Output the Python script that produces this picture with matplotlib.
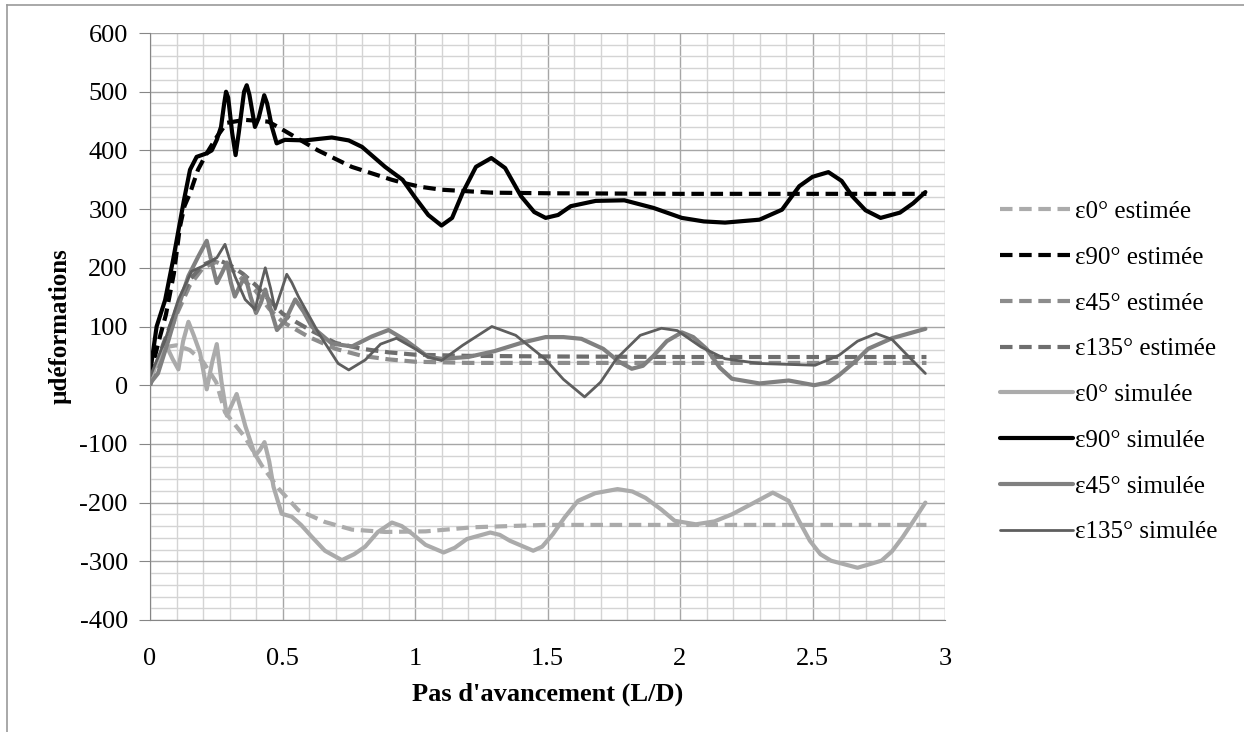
import matplotlib
matplotlib.use("Agg")
import matplotlib.pyplot as plt
from matplotlib.lines import Line2D
from matplotlib.ticker import MultipleLocator

plt.rcParams['font.family'] = ['Liberation Serif', 'DejaVu Serif']
plt.rcParams['axes.unicode_minus'] = False

# ---- data ----
# eps0 estimee
x_e0 = [0, 0.03, 0.06, 0.10, 0.15, 0.20, 0.25, 0.283, 0.359, 0.422, 0.485, 0.56, 0.66, 0.762,
        0.888, 1.04, 1.22, 1.49, 2.0, 2.5, 2.93]
y_e0 = [5, 45, 65, 68, 60, 40, 5, -46, -89, -137, -176, -213, -233, -246,
        -250, -249, -242, -238, -238, -238, -238]

# eps90 estimee
x_e90 = [0, 0.03, 0.06, 0.09, 0.113, 0.13, 0.151, 0.181, 0.214, 0.252, 0.29, 0.358, 0.446, 0.483,
         0.547, 0.634, 0.761, 0.912, 0.953, 1.02, 1.10, 1.29, 1.5, 2.0, 2.5, 2.93]
y_e90 = [15, 70, 120, 190, 270, 305, 327, 367, 395, 423, 447, 452, 449, 440,
         423, 400, 372, 350, 345, 338, 333, 328, 327, 326, 326, 326]

# eps45 estimee
x_e45 = [0, 0.05, 0.10, 0.15, 0.20, 0.25, 0.30, 0.35, 0.40, 0.45, 0.50, 0.55, 0.60, 0.70,
         0.80, 0.90, 1.0, 1.2, 1.5, 2.0, 2.5, 2.93]
y_e45 = [0, 60, 120, 170, 200, 210, 200, 180, 160, 130, 108, 95, 82, 62,
         50, 44, 40, 38, 38, 38, 38, 38]

# eps135 estimee
x_e135 = [0, 0.05, 0.10, 0.15, 0.20, 0.25, 0.30, 0.35, 0.40, 0.45, 0.50, 0.55, 0.60, 0.70,
          0.80, 0.90, 1.0, 1.2, 1.5, 2.0, 2.5, 2.93]
y_e135 = [0, 70, 130, 180, 205, 215, 205, 190, 170, 145, 122, 108, 95, 72,
          62, 56, 52, 50, 49, 48, 48, 48]

# eps0 simulee
x_s0 = [0, 0.03, 0.063, 0.085, 0.107, 0.125, 0.145, 0.165, 0.189, 0.214, 0.235, 0.252, 0.27,
        0.29, 0.307, 0.327, 0.36, 0.397, 0.415, 0.432, 0.45, 0.466, 0.497, 0.535, 0.57,
        0.61, 0.66, 0.724, 0.77, 0.812, 0.86, 0.913, 0.95, 0.989, 1.04, 1.108, 1.15,
        1.196, 1.284, 1.32, 1.358, 1.446, 1.48, 1.52, 1.565, 1.615, 1.68, 1.764, 1.82,
        1.87, 1.93, 1.98, 2.06, 2.13, 2.196, 2.28, 2.35, 2.41, 2.45, 2.49, 2.53, 2.57,
        2.67, 2.76, 2.80, 2.84, 2.88, 2.926]
y_s0 = [9, 43, 66, 45, 27, 75, 108, 85, 55, -7, 40, 70, 5,
        -52, -35, -15, -70, -120, -110, -97, -130, -173, -219, -224, -238,
        -258, -282, -298, -288, -275, -250, -234, -240, -253, -272, -285, -277,
        -262, -251, -255, -265, -282, -275, -254, -225, -197, -184, -177, -181,
        -192, -212, -231, -237, -232, -220, -200, -183, -197, -232, -265, -288, -299,
        -311, -299, -283, -259, -232, -200]

# eps90 simulee
x_s90 = [0, 0.025, 0.057, 0.087, 0.128, 0.151, 0.176, 0.214, 0.233, 0.252, 0.268, 0.28, 0.287,
         0.295, 0.31, 0.323, 0.335, 0.355, 0.365, 0.375, 0.396, 0.41, 0.431, 0.442, 0.46,
         0.478, 0.509, 0.585, 0.686, 0.75, 0.80, 0.887, 0.953, 1.0, 1.05, 1.10, 1.14,
         1.18, 1.23, 1.288, 1.34, 1.40, 1.45, 1.493, 1.54, 1.588, 1.682, 1.79, 1.90,
         2.007, 2.09, 2.17, 2.30, 2.385, 2.45, 2.50, 2.56, 2.61, 2.65, 2.70, 2.757,
         2.83, 2.88, 2.926]
y_s90 = [20, 100, 145, 213, 315, 367, 389, 395, 400, 418, 440, 480, 500,
         490, 430, 392, 430, 500, 511, 495, 440, 455, 494, 480, 440,
         412, 418, 417, 422, 417, 406, 372, 350, 320, 290, 272, 285,
         328, 372, 387, 370, 322, 295, 285, 290, 305, 314, 315, 302,
         285, 279, 277, 282, 299, 339, 355, 363, 348, 322, 298, 285,
         294, 310, 329]

# eps45 simulee
x_s45 = [0, 0.03, 0.07, 0.107, 0.145, 0.183, 0.214, 0.235, 0.252, 0.27, 0.29, 0.305, 0.32,
         0.34, 0.359, 0.38, 0.40, 0.418, 0.435, 0.455, 0.479, 0.51, 0.548, 0.58, 0.61,
         0.686, 0.762, 0.837, 0.90, 0.963, 1.05, 1.10, 1.2, 1.3, 1.4, 1.493, 1.56, 1.628,
         1.71, 1.77, 1.818, 1.86, 1.90, 1.95, 2.007, 2.05, 2.10, 2.15, 2.196, 2.30, 2.41,
         2.507, 2.56, 2.60, 2.66, 2.71, 2.80, 2.926]
y_s45 = [3, 20, 77, 134, 186, 220, 246, 205, 174, 190, 209, 175, 151,
         170, 186, 150, 123, 140, 163, 130, 94, 110, 146, 125, 100,
         71, 66, 83, 94, 77, 48, 45, 48, 58, 72, 82, 82, 79,
         62, 40, 28, 33, 50, 75, 90, 82, 62, 30, 11, 3, 8,
         0, 5, 17, 40, 62, 80, 96]

# eps135 simulee
x_s135 = [0, 0.057, 0.107, 0.157, 0.20, 0.252, 0.283, 0.30, 0.32, 0.359, 0.397, 0.415, 0.435,
          0.455, 0.472, 0.495, 0.516, 0.535, 0.56, 0.636, 0.71, 0.75, 0.812, 0.87, 0.93,
          1.0, 1.05, 1.10, 1.18, 1.29, 1.38, 1.49, 1.56, 1.64, 1.70, 1.76, 1.85, 1.93,
          1.99, 2.08, 2.17, 2.30, 2.51, 2.60, 2.67, 2.74, 2.80, 2.86, 2.926]
y_s135 = [14, 77, 146, 194, 203, 217, 240, 215, 186, 146, 129, 165, 200,
          165, 129, 160, 189, 175, 151, 89, 37, 26, 43, 70, 80,
          62, 48, 42, 68, 100, 85, 45, 10, -20, 5, 45, 85, 97,
          93, 65, 45, 37, 34, 51, 75, 88, 78, 50, 20]

labels = ["ε0° estimée", "ε90° estimée", "ε45° estimée", "ε135° estimée",
          "ε0° simulée", "ε90° simulée", "ε45° simulée", "ε135° simulée"]

fig = plt.figure(figsize=(12.44, 7.32), dpi=100)
ax = fig.add_axes([150 / 1244, 1 - 620 / 732, 795 / 1244, 587 / 732])

series = [
    (x_e0, y_e0, '#ababab', '--', 3.0),
    (x_e90, y_e90, '#000000', '--', 3.0),
    (x_e45, y_e45, '#8c8c8c', '--', 3.0),
    (x_e135, y_e135, '#6e6e6e', '--', 3.0),
    (x_s0, y_s0, '#ababab', '-', 3.0),
    (x_s90, y_s90, '#000000', '-', 3.0),
    (x_s45, y_s45, '#808080', '-', 3.0),
    (x_s135, y_s135, '#5e5e5e', '-', 2.0),
]
for (xs, ys, col, ls, lw), lab in zip(series, labels):
    ax.plot(xs, ys, color=col, linestyle=ls, linewidth=lw, label=lab,
            dashes=(3, 1.6) if ls == '--' else (None, None),
            solid_capstyle='round', solid_joinstyle='round')

ax.set_xlim(0, 3)
ax.set_ylim(-400, 600)
ax.xaxis.set_minor_locator(MultipleLocator(0.1))
ax.yaxis.set_major_locator(MultipleLocator(100))
ax.yaxis.set_minor_locator(MultipleLocator(20))
ax.set_xticks([0, 0.5, 1, 1.5, 2, 2.5, 3])
ax.set_xticklabels(["0", "0.5", "1", "1.5", "2", "2.5", "3"])

ax.grid(which='major', color='#a6a6a6', linewidth=1.0)
ax.grid(which='minor', color='#d4d4d4', linewidth=1.0)
ax.set_axisbelow(True)
for s in ['top', 'right']:
    ax.spines[s].set_visible(False)
for s in ['left', 'bottom']:
    ax.spines[s].set_color('#868686')
ax.tick_params(axis='y', which='major', length=8, color='#868686', labelsize=19, pad=8)
ax.tick_params(axis='x', which='major', length=0, labelsize=19, pad=20)
ax.tick_params(which='minor', length=0)

ax.set_xlabel("Pas d'avancement (L/D)", fontsize=19, fontweight='bold', labelpad=9)
ax.set_ylabel("µdéformations", fontsize=18, fontweight='bold', labelpad=6)

ax.legend(loc='center left', bbox_to_anchor=(988 / 1244, 1 - 372 / 732),
          bbox_transform=fig.transFigure, frameon=False, fontsize=18,
          handlelength=2.9, handletextpad=0.1, labelspacing=0.93, borderpad=0)

# outer frame lines (top and left only)
fig.add_artist(Line2D([7 / 1244, 1], [1 - 5 / 732, 1 - 5 / 732], color='#9a9a9a', linewidth=1.2))
fig.add_artist(Line2D([7 / 1244, 7 / 1244], [0, 1 - 5 / 732], color='#9a9a9a', linewidth=1.2))

fig.savefig("out.png", dpi=100)
